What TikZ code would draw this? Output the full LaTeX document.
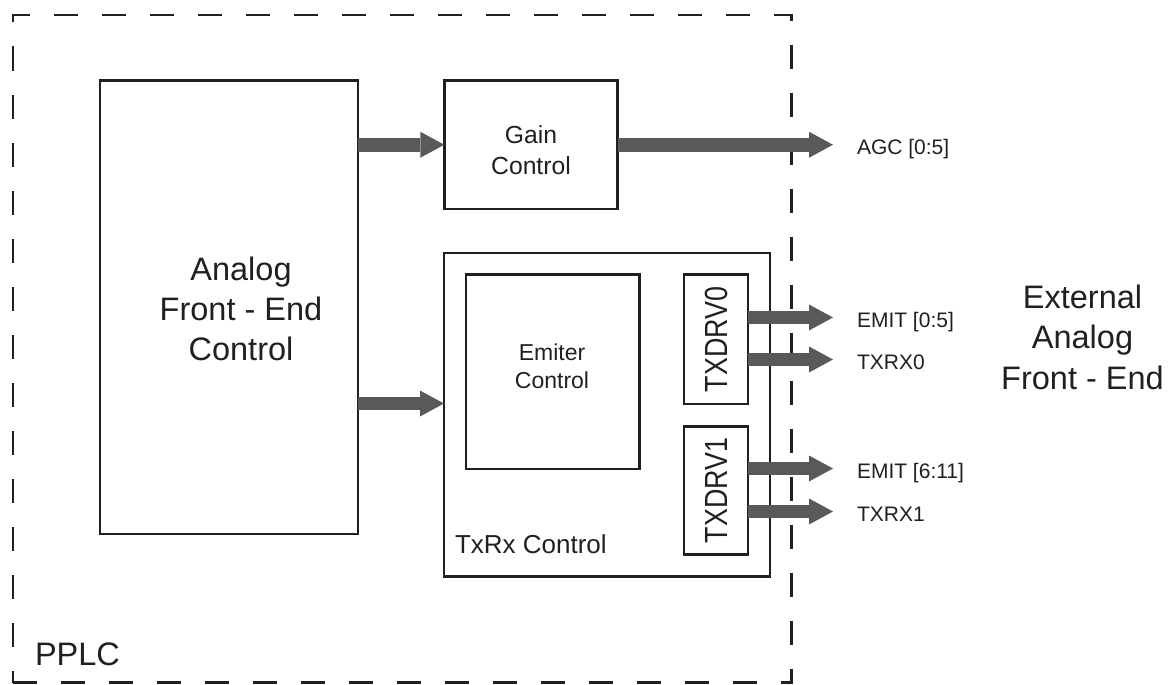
\documentclass[tikz,border=0pt]{standalone}
\usepackage{fontspec}
\setmainfont{Liberation Sans}
\usetikzlibrary{arrows.meta}
\definecolor{lineblk}{HTML}{231F20}
\definecolor{busgray}{HTML}{58595B}
\begin{document}
\begin{tikzpicture}[x=1pt,y=-1pt,
  blk/.style={draw=lineblk, line width=2.8pt, inner sep=0pt, outer sep=0pt, rectangle, text=lineblk},
  bus/.style={draw=busgray, line width=13.5pt, -{Triangle[length=24pt,width=26pt,line width=0pt]}},
  txt/.style={inner sep=0pt, outer sep=0pt, align=center, text=lineblk},
  lbl/.style={inner sep=0pt, outer sep=0pt, anchor=base west, text=lineblk, font=\fontsize{21}{25}\selectfont}
]
\useasboundingbox (0,0) rectangle (1175,685);

% boxes
\node[blk, minimum width=258pt, minimum height=453.5pt] (analog) at (229,307.25) {};
\node[blk, minimum width=173.4pt, minimum height=128.5pt] (gain) at (531,144.75) {};
\node[blk, minimum width=326pt, minimum height=323.5pt] (txrx) at (607,414.75) {};
\node[blk, minimum width=173.5pt, minimum height=194.5pt] (emiter) at (552.75,371.75) {};
\node[blk, minimum width=64pt, minimum height=129.5pt, font=\fontsize{32}{36}\selectfont] (txdrv0) at (716,339.25) {\rotatebox{90}{\scalebox{0.84}[1]{TXDRV0}}};
\node[blk, minimum width=64pt, minimum height=128.3pt, font=\fontsize{32}{36}\selectfont] (txdrv1) at (716,490.35) {\rotatebox{90}{\scalebox{0.84}[1]{TXDRV1}}};

% texts
\node[txt, font=\fontsize{32.5}{40}\selectfont] (analogtxt) at (241,309) {Analog\\Front - End\\Control};
\node[txt, font=\fontsize{32.5}{40.5}\selectfont] (exttxt) at (1082.5,337) {External\\Analog\\Front - End};
\node[txt, font=\fontsize{24.7}{30.5}\selectfont] (gaintxt) at (531,150) {Gain\\Control};
\node[txt, font=\fontsize{23}{28}\selectfont] (emitertxt) at (552,366.2) {Emiter\\Control};
\node[txt, anchor=base west, font=\fontsize{26}{30}\selectfont] (txrxtxt) at (455,553) {TxRx Control};
\node[txt, anchor=base west, font=\fontsize{32.5}{38}\selectfont] (pplc) at (35,665) {PPLC};

% PPLC frame
\draw[lineblk, line width=2.8pt, dash pattern=on 24pt off 24pt, dash phase=12pt, line cap=butt, line join=miter]
  (13,682.5) -- (13,15) -- (791.5,15) -- (791.5,682.5) -- cycle;

% arrow end points
\coordinate (t1) at ([yshift=11.25pt]txrx.west);
\coordinate (agctip) at (833,144.75);
\coordinate (e0) at (833,317.5);
\coordinate (x0) at (833,359.5);
\coordinate (e1) at (833,468.5);
\coordinate (x1) at (833,511.5);

% labels
\node[lbl] (agc) at (857,154.75) {AGC [0:5]};
\node[lbl] (emit0) at (857,327.5) {EMIT [0:5]};
\node[lbl] (txrx0) at (857,369.5) {TXRX0};
\node[lbl] (emit1) at (857,478.5) {EMIT [6:11]};
\node[lbl] (txrx1) at (857,521.5) {TXRX1};

% buses
\draw[bus] (analog.east |- gain.west) -- (gain.west);
\draw[bus] (analog.east |- t1) -- (t1);
\draw[bus] (gain.east) -- (agctip);
\draw[bus] (txdrv0.east |- e0) -- (e0);
\draw[bus] (txdrv0.east |- x0) -- (x0);
\draw[bus] (txdrv1.east |- e1) -- (e1);
\draw[bus] (txdrv1.east |- x1) -- (x1);
\end{tikzpicture}
\end{document}
